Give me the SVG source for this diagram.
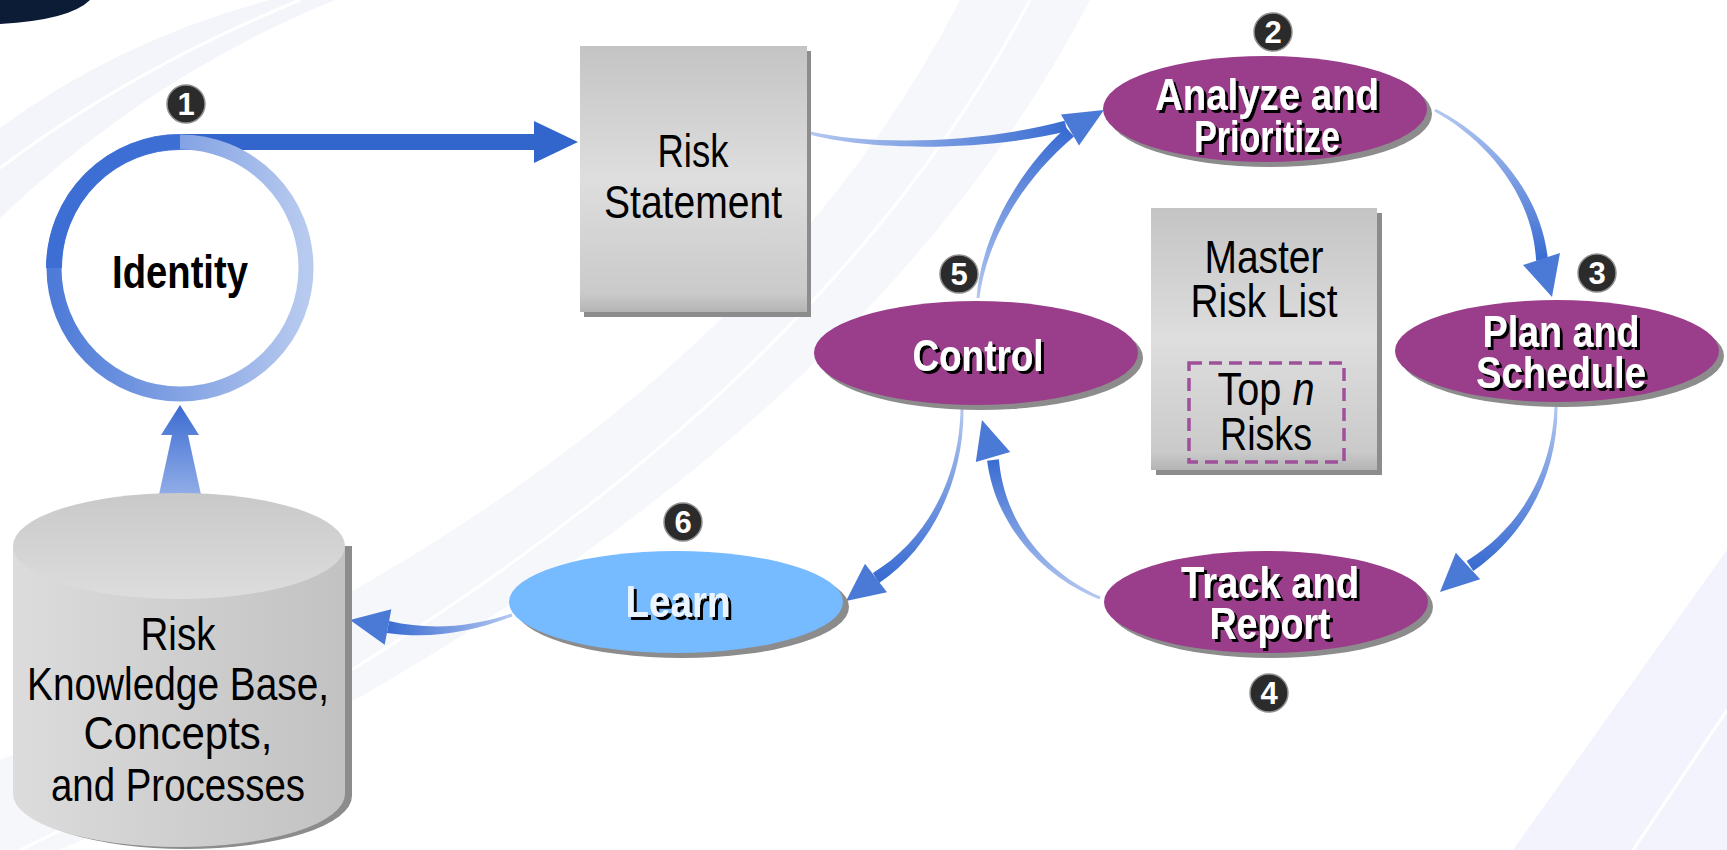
<svg xmlns="http://www.w3.org/2000/svg" width="1727" height="850" viewBox="0 0 1727 850">
<defs>
<style>
.t{font-family:"Liberation Sans",Arial,sans-serif;font-size:46px;fill:#000;text-anchor:middle}
.b{font-family:"Liberation Sans",Arial,sans-serif;font-size:45px;font-weight:bold;fill:#fff;text-anchor:middle;filter:url(#ts)}
.bd{fill:#2b2b2b;stroke:#8f8f8f;stroke-width:1.5}
.bn{font-family:"Liberation Sans",Arial,sans-serif;font-size:31px;font-weight:bold;fill:#fff;text-anchor:middle}
.pur{fill:#9a3e8b}
.sh{fill:#8c8c8c}
.ah{fill:#4a79d6}
</style>
<filter id="ts" x="-10%" y="-20%" width="120%" height="140%">
<feOffset in="SourceAlpha" dx="2.5" dy="2.5" result="o"/>
<feMerge><feMergeNode in="o"/><feMergeNode in="SourceGraphic"/></feMerge>
</filter>
<linearGradient id="box" x1="0" y1="0" x2="0" y2="1">
<stop offset="0" stop-color="#c4c4c4"/><stop offset="0.5" stop-color="#dedede"/><stop offset="0.93" stop-color="#cacaca"/><stop offset="1" stop-color="#b4b4b4"/>
</linearGradient>
<linearGradient id="cylb" x1="0" y1="0" x2="1" y2="0">
<stop offset="0" stop-color="#dcdcdc"/><stop offset="1" stop-color="#c2c2c2"/>
</linearGradient>
<linearGradient id="cylt" x1="0" y1="0" x2="0" y2="1">
<stop offset="0" stop-color="#c9c9c9"/><stop offset="1" stop-color="#dddddd"/>
</linearGradient>
<linearGradient id="ring" gradientUnits="userSpaceOnUse" x1="54" y1="0" x2="306" y2="0">
<stop offset="0" stop-color="#4e7bd8"/><stop offset="1" stop-color="#b8caef"/>
</linearGradient>
<linearGradient id="gA1" gradientUnits="userSpaceOnUse" x1="810" y1="0" x2="1066" y2="0">
<stop offset="0" stop-color="#b4c8f0"/><stop offset="1" stop-color="#3a6cd2"/>
</linearGradient>
<linearGradient id="gA2" gradientUnits="userSpaceOnUse" x1="0" y1="298" x2="0" y2="132">
<stop offset="0" stop-color="#b4c8f0"/><stop offset="1" stop-color="#3a6cd2"/>
</linearGradient>
<linearGradient id="gB" gradientUnits="userSpaceOnUse" x1="0" y1="110" x2="0" y2="258">
<stop offset="0" stop-color="#b4c8f0"/><stop offset="1" stop-color="#3a6cd2"/>
</linearGradient>
<linearGradient id="gC" gradientUnits="userSpaceOnUse" x1="0" y1="404" x2="0" y2="566">
<stop offset="0" stop-color="#b4c8f0"/><stop offset="1" stop-color="#3a6cd2"/>
</linearGradient>
<linearGradient id="gD" gradientUnits="userSpaceOnUse" x1="0" y1="598" x2="0" y2="460">
<stop offset="0" stop-color="#b4c8f0"/><stop offset="1" stop-color="#3a6cd2"/>
</linearGradient>
<linearGradient id="gE" gradientUnits="userSpaceOnUse" x1="0" y1="408" x2="0" y2="578">
<stop offset="0" stop-color="#b4c8f0"/><stop offset="1" stop-color="#3a6cd2"/>
</linearGradient>
<linearGradient id="gF" gradientUnits="userSpaceOnUse" x1="512" y1="0" x2="388" y2="0">
<stop offset="0" stop-color="#b4c8f0"/><stop offset="1" stop-color="#3a6cd2"/>
</linearGradient>
<linearGradient id="gG" gradientUnits="userSpaceOnUse" x1="0" y1="406" x2="0" y2="522">
<stop offset="0" stop-color="#3d6dd2"/><stop offset="1" stop-color="#abc1ee"/>
</linearGradient>
</defs>

<rect width="1727" height="850" fill="#fff"/>
<g id="background">
<path d="M0,128 Q120,40 270,0 L335,0 Q150,75 0,218 Z" fill="#f4f5fa"/>
<path d="M0,168 Q130,70 300,0" fill="none" stroke="#fff" stroke-width="3"/>
<path d="M960,0 Q720,470 0,760 L0,850 L60,850 Q830,500 1090,0 Z" fill="#f6f7fb"/>
<path d="M1030,0 Q770,490 20,850" fill="none" stroke="#fff" stroke-width="3"/>
<path d="M1513,850 Q1620,700 1727,550 L1727,850 Z" fill="#f2f3fc"/>
<path d="M1633,850 Q1680,780 1727,710" fill="none" stroke="#fff" stroke-width="3"/>
<path d="M0,0 L90,0 Q70,20 0,24 Z" fill="#0d1c36"/>
</g>

<g id="connectors">
<!-- Identity -> Risk Statement -->
<path d="M54,268 A126,126 0 0 1 180,142" fill="none" stroke="#3d6ed4" stroke-width="16"/>
<line x1="178" y1="142" x2="536" y2="142" stroke="#3366cc" stroke-width="16"/>
<polygon points="534,121 578,142 534,163" fill="#3366cc"/>
<!-- Risk Statement -> Analyze -->
<path d="M810.4,131.5 C870.2,145.5 979.6,144 1064.6,120.7 L1067.4,131.3 C980.4,152 869.8,150.5 809.6,134.5 Z" fill="url(#gA1)"/>
<!-- Control -> Analyze -->
<path d="M979.5,298.1 C985.4,245.6 1018.6,182.7 1074,136.5 L1066,127.5 C1011.4,177.3 980.6,244.4 976.5,297.9 Z" fill="url(#gA2)"/>
<polygon points="1061,114.5 1104,110 1079,145.5" class="ah"/>
<!-- Analyze -> Plan -->
<path d="M1434.3,111.3 C1489.3,141.8 1533,197 1536.1,260.8 L1547.9,259.2 C1541,193 1492.8,138.3 1435.7,108.7 Z" fill="url(#gB)"/>
<polygon points="1523,265 1552,297 1560,253" class="ah"/>
<!-- Plan -> Track -->
<path d="M1557.5,404 C1558.5,470.5 1528.6,532.7 1473.3,571 L1466.7,561 C1521.4,527.3 1553.5,469.5 1554.5,404 Z" fill="url(#gC)"/>
<polygon points="1455.8,552.8 1440,592 1480.2,579.2" class="ah"/>
<!-- Track -> Control -->
<path d="M1100.6,596.6 C1046.8,573.3 1004.3,523.7 998.9,459.3 L987.1,460.7 C995.7,526.3 1043.3,576.8 1099.4,599.4 Z" fill="url(#gD)"/>
<polygon points="975.8,462.1 982,420 1010.2,451.9" class="ah"/>
<!-- Control -> Learn -->
<path d="M960.5,408 C960,479.3 925.3,541.4 872.9,572.9 L879.1,583.1 C930.7,548.6 964.4,480.7 963.5,408 Z" fill="url(#gE)"/>
<polygon points="865,563.8 846,601 887,592.2" class="ah"/>
<!-- Learn -> Knowledge base -->
<path d="M511.5,613.6 C469.5,627.6 430,630.5 389.1,621.1 L386.9,632.9 C430,639.5 470.5,632.5 512.5,616.4 Z" fill="url(#gF)"/>
<polygon points="391.3,609.3 350,620 384.7,644.7" class="ah"/>
<!-- Knowledge base -> Identity -->
<polygon points="153,522 172,435 161,435 180,405 199,435 188,435 207,522" fill="url(#gG)"/>
</g>

<g id="identity">
<circle cx="180" cy="268" r="126" fill="none" stroke="url(#ring)" stroke-width="15"/>
<path d="M54,268 A126,126 0 0 1 180,142" fill="none" stroke="#3d6ed4" stroke-width="15"/>
<text class="t" x="180" y="288" font-weight="bold" textLength="136" lengthAdjust="spacingAndGlyphs">Identity</text>
</g>

<g id="risk-statement">
<rect x="584" y="51" width="227" height="266" class="sh"/>
<rect x="580" y="46" width="227" height="266" fill="url(#box)"/>
<text class="t" x="693" y="167" textLength="71" lengthAdjust="spacingAndGlyphs">Risk</text>
<text class="t" x="693" y="218" textLength="178" lengthAdjust="spacingAndGlyphs">Statement</text>
</g>

<g id="analyze">
<ellipse cx="1270" cy="114" rx="162" ry="53" class="sh"/>
<ellipse cx="1265" cy="109" rx="162" ry="53" class="pur"/>
<text class="b" x="1267" y="110" textLength="224" lengthAdjust="spacingAndGlyphs">Analyze and</text>
<text class="b" x="1267" y="152" textLength="146" lengthAdjust="spacingAndGlyphs">Prioritize</text>
</g>

<g id="plan">
<ellipse cx="1562" cy="356" rx="162" ry="51" class="sh"/>
<ellipse cx="1557" cy="351" rx="162" ry="51" class="pur"/>
<text class="b" x="1561" y="347" textLength="157" lengthAdjust="spacingAndGlyphs">Plan and</text>
<text class="b" x="1561" y="388" textLength="170" lengthAdjust="spacingAndGlyphs">Schedule</text>
</g>

<g id="track">
<ellipse cx="1271" cy="607" rx="162" ry="51" class="sh"/>
<ellipse cx="1266" cy="602" rx="162" ry="51" class="pur"/>
<text class="b" x="1270" y="598" textLength="178" lengthAdjust="spacingAndGlyphs">Track and</text>
<text class="b" x="1270" y="639" textLength="121" lengthAdjust="spacingAndGlyphs">Report</text>
</g>

<g id="control">
<ellipse cx="981" cy="358" rx="162" ry="52" class="sh"/>
<ellipse cx="976" cy="353" rx="162" ry="52" class="pur"/>
<text class="b" x="978" y="371" textLength="131" lengthAdjust="spacingAndGlyphs">Control</text>
</g>

<g id="learn">
<ellipse cx="682" cy="607" rx="167" ry="51" class="sh"/>
<ellipse cx="676" cy="602" rx="167" ry="51" fill="#76baff"/>
<text class="b" x="678" y="617" textLength="105" lengthAdjust="spacingAndGlyphs" style="fill:#eaf4ff">Learn</text>
</g>

<g id="master-risk-list">
<rect x="1156" y="213" width="226" height="262" class="sh"/>
<rect x="1151" y="208" width="226" height="262" fill="url(#box)"/>
<text class="t" x="1264" y="273" textLength="119" lengthAdjust="spacingAndGlyphs">Master</text>
<text class="t" x="1264" y="317" textLength="147" lengthAdjust="spacingAndGlyphs">Risk List</text>
<rect x="1189" y="363" width="155" height="99" fill="none" stroke="#a0509a" stroke-width="3.5" stroke-dasharray="13,7"/>
<text class="t" x="1266" y="405" textLength="97" lengthAdjust="spacingAndGlyphs">Top <tspan font-style="italic">n</tspan></text>
<text class="t" x="1266" y="450" textLength="92" lengthAdjust="spacingAndGlyphs">Risks</text>
</g>

<g id="knowledge-base">
<path d="M20,546 L20,796 A166,53 0 0 0 352,796 L352,546 Z" class="sh"/>
<path d="M13,546 L13,794 A166,53 0 0 0 345,794 L345,546 Z" fill="url(#cylb)"/>
<ellipse cx="179" cy="546" rx="166" ry="53" fill="url(#cylt)"/>
<text class="t" x="178" y="650" textLength="75" lengthAdjust="spacingAndGlyphs">Risk</text>
<text class="t" x="178" y="700" textLength="302" lengthAdjust="spacingAndGlyphs">Knowledge Base,</text>
<text class="t" x="178" y="749" textLength="189" lengthAdjust="spacingAndGlyphs">Concepts,</text>
<text class="t" x="178" y="801" textLength="254" lengthAdjust="spacingAndGlyphs">and Processes</text>
</g>

<g id="badges">
<circle class="bd" cx="186" cy="104" r="19"/><text class="bn" x="186" y="115">1</text>
<circle class="bd" cx="1273" cy="32" r="19"/><text class="bn" x="1273" y="43">2</text>
<circle class="bd" cx="1597" cy="273" r="19"/><text class="bn" x="1597" y="284">3</text>
<circle class="bd" cx="1269" cy="693" r="19"/><text class="bn" x="1269" y="704">4</text>
<circle class="bd" cx="959" cy="274" r="19"/><text class="bn" x="959" y="285">5</text>
<circle class="bd" cx="683" cy="522" r="19"/><text class="bn" x="683" y="533">6</text>
</g>
</svg>
